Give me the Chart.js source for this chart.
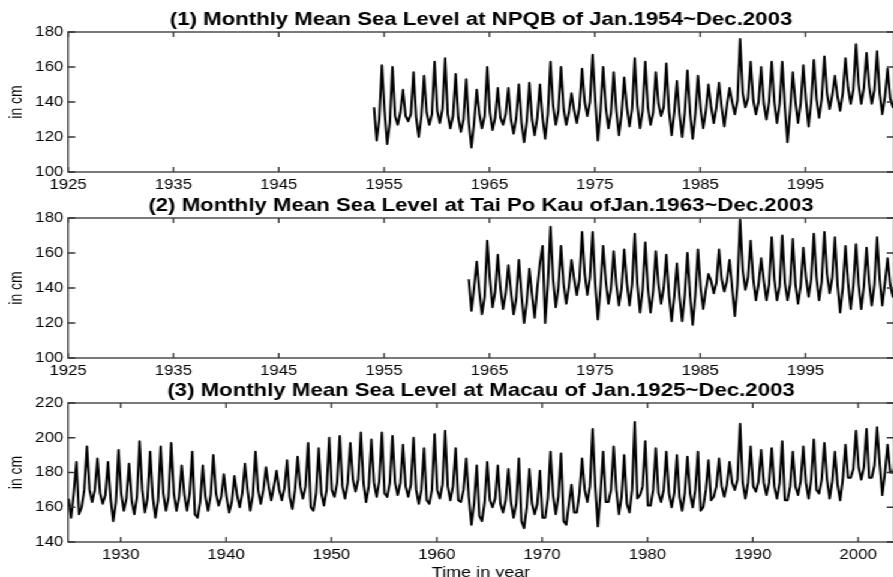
<!DOCTYPE html>
<html>
<head>
<meta charset="utf-8">
<title>Monthly Mean Sea Level</title>
<script src="https://cdn.jsdelivr.net/npm/chart.js@4.4.1/dist/chart.umd.min.js"></script>
<style>
  html, body { margin: 0; padding: 0; background: #fff; overflow: hidden; }
  #page { position: relative; width: 893px; height: 577px; overflow: hidden; }
  /* the reference is stretched sideways, so the whole drawing is too */
  #stretch { position: absolute; left: 0; top: 0; width: 750px; height: 600px; transform: scaleX(1.2); transform-origin: 0 0; }
  canvas { position: absolute; left: 0; }
</style>
</head>
<body>
<div id="page"><div id="stretch">
  <canvas id="chart1" width="750" height="195" style="top:0px;width:750px;height:195px"></canvas>
  <canvas id="chart2" width="750" height="195" style="top:186px;width:750px;height:195px"></canvas>
  <canvas id="chart3" width="750" height="213" style="top:371px;width:750px;height:213px"></canvas>
</div></div>
<script>
// readings per year, taken at these months
const sampleMonths = [1, 4, 7, 10];

const hkYearTicks = [1925, 1935, 1945, 1955, 1965, 1975, 1985, 1995];
const macauYearTicks = [1930, 1940, 1950, 1960, 1970, 1980, 1990, 2000];
const hkLevelTicks = [100, 120, 140, 160, 180];
const macauLevelTicks = [140, 160, 180, 200, 220];

// (1) North Point / Quarry Bay, cm
const npqbStart = 1954;
const npqbLevels = [
  [137, 118, 130, 161], [135, 116, 128, 160], [132, 127, 134, 147], [132, 129, 133, 157], [131, 120, 132, 155],
  [134, 127, 133, 163], [135, 128, 136, 165], [133, 125, 132, 156], [131, 123, 130, 153], [128, 114, 128, 147],
  [133, 125, 132, 160], [134, 124, 131, 148], [131, 127, 133, 148], [130, 122, 131, 150], [128, 117, 129, 151],
  [130, 121, 131, 150], [131, 119, 133, 163], [138, 127, 135, 160], [136, 127, 134, 145], [135, 128, 137, 159],
  [140, 132, 140, 167], [141, 118, 135, 160], [137, 125, 134, 157], [135, 121, 133, 154], [137, 126, 136, 165],
  [138, 125, 135, 163], [137, 127, 134, 157], [139, 132, 137, 162], [135, 121, 134, 152], [133, 120, 134, 158],
  [134, 119, 133, 155], [136, 125, 135, 150], [137, 128, 137, 151], [137, 126, 138, 148], [140, 133, 141, 176],
  [145, 137, 142, 163], [141, 133, 140, 160], [139, 130, 140, 163], [140, 128, 139, 163], [137, 117, 135, 157],
  [140, 128, 139, 161], [141, 126, 140, 164], [142, 131, 142, 166], [145, 136, 144, 155], [143, 135, 145, 165],
  [148, 139, 147, 173], [150, 139, 148, 168], [149, 139, 147, 169], [145, 133, 143, 159], [142, 137, 145, 160]
];

// (2) Tai Po Kau, cm
const tpkStart = 1963;
const tpkLevels = [
  [145, 127, 140, 155], [138, 125, 135, 167], [145, 129, 138, 159], [140, 128, 137, 153], [138, 125, 134, 156],
  [136, 120, 132, 151], [136, 123, 140, 154], [164, 120, 142, 175], [145, 129, 140, 164], [142, 131, 141, 156],
  [145, 136, 145, 172], [148, 136, 146, 172], [142, 122, 140, 164], [144, 131, 140, 161], [142, 130, 140, 162],
  [143, 130, 142, 171], [142, 126, 139, 166], [140, 126, 138, 161], [142, 131, 140, 159], [136, 121, 135, 154],
  [135, 121, 136, 160], [136, 119, 136, 162], [140, 128, 139, 148], [144, 137, 143, 162], [145, 138, 144, 156],
  [140, 124, 142, 179], [150, 139, 146, 167], [145, 133, 142, 157], [144, 133, 142, 169], [145, 133, 141, 170],
  [143, 133, 142, 168], [142, 131, 141, 163], [146, 135, 145, 171], [146, 133, 144, 172], [148, 137, 146, 169],
  [142, 126, 140, 164], [143, 128, 141, 165], [142, 128, 141, 163], [143, 130, 142, 169], [145, 130, 143, 157],
  [142, 135, 143, 158]
];

// (3) Macau, cm
const macauStart = 1925;
const macauLevels = [
  [165, 154, 168, 186], [156, 160, 170, 195], [170, 163, 170, 188], [168, 162, 167, 186], [165, 152, 163, 193],
  [168, 158, 165, 185], [164, 156, 166, 198], [170, 157, 165, 192], [166, 154, 164, 195], [168, 158, 166, 197],
  [168, 158, 166, 184], [167, 158, 168, 192], [156, 154, 163, 184], [166, 158, 167, 190], [168, 161, 166, 179],
  [166, 157, 163, 178], [167, 160, 168, 185], [170, 158, 167, 192], [170, 162, 170, 183], [172, 164, 172, 181],
  [170, 164, 171, 187], [166, 159, 170, 189], [172, 165, 172, 197], [160, 158, 168, 194], [168, 161, 170, 200],
  [170, 166, 174, 201], [172, 165, 174, 197], [176, 169, 176, 203], [174, 163, 172, 199], [174, 166, 175, 203],
  [168, 166, 174, 201], [174, 167, 174, 196], [172, 166, 173, 200], [170, 162, 170, 194], [164, 162, 170, 202],
  [170, 165, 173, 204], [172, 164, 172, 194], [164, 163, 170, 188], [166, 150, 162, 184], [155, 152, 163, 186],
  [164, 160, 165, 184], [162, 157, 164, 182], [163, 154, 162, 188], [152, 148, 160, 182], [162, 156, 162, 181],
  [154, 154, 165, 192], [167, 156, 166, 191], [152, 150, 162, 173], [157, 157, 168, 188], [170, 163, 172, 205],
  [172, 149, 168, 192], [163, 163, 170, 195], [170, 156, 166, 190], [162, 157, 170, 209], [165, 167, 172, 198],
  [161, 161, 170, 194], [168, 163, 170, 192], [168, 160, 168, 190], [166, 158, 168, 189], [168, 160, 170, 192],
  [158, 160, 170, 187], [164, 166, 172, 188], [172, 166, 173, 186], [174, 170, 176, 208], [174, 165, 174, 195],
  [172, 169, 175, 193], [174, 167, 174, 194], [172, 165, 174, 198], [164, 164, 172, 192], [172, 167, 175, 195],
  [174, 165, 176, 199], [170, 168, 176, 197], [176, 165, 175, 192], [173, 164, 176, 196], [177, 177, 182, 204],
  [183, 176, 183, 205], [177, 177, 184, 206], [185, 167, 180, 196], [180, 180, 186, 194]
];

Chart.defaults.font.family = '"Liberation Sans", Arial, sans-serif';
Chart.defaults.color = '#000';

function toPoints(startYear, levels) {
  const pts = [];
  levels.forEach((row, i) => {
    row.forEach((v, j) => {
      pts.push({ x: startYear + i + (sampleMonths[j] - 0.5) / 12, y: v });
    });
  });
  return pts;
}

// box round the plot with inward ticks on all four sides
const boxPlugin = {
  id: 'box',
  afterDraw(chart) {
    const { ctx, chartArea: a, scales: { x, y } } = chart;
    ctx.save();
    ctx.strokeStyle = '#333';
    ctx.lineWidth = 1.3;
    ctx.strokeRect(a.left, a.top, a.right - a.left, a.bottom - a.top);
    ctx.beginPath();
    x.ticks.forEach(t => {
      const px = x.getPixelForValue(t.value);
      ctx.moveTo(px, a.bottom); ctx.lineTo(px, a.bottom - 5);
      ctx.moveTo(px, a.top); ctx.lineTo(px, a.top + 5);
    });
    y.ticks.forEach(t => {
      const py = y.getPixelForValue(t.value);
      ctx.moveTo(a.left, py); ctx.lineTo(a.left + 6, py);
      ctx.moveTo(a.right, py); ctx.lineTo(a.right - 6, py);
    });
    ctx.stroke();
    ctx.restore();
  }
};

function makeChart(id, opts) {
  return new Chart(document.getElementById(id), {
    type: 'line',
    data: {
      datasets: [{
        data: toPoints(opts.start, opts.levels),
        borderColor: '#000',
        borderWidth: 2,
        borderJoinStyle: 'round',
        pointRadius: 0,
        tension: 0,
        fill: false
      }]
    },
    options: {
      responsive: false,
      animation: false,
      events: [],
      layout: { padding: { left: 0, right: 5, top: 0, bottom: 0 } },
      plugins: {
        legend: { display: false },
        tooltip: { enabled: false },
        title: {
          display: true,
          text: opts.title,
          fullSize: false,
          color: '#000',
          font: { size: 18.5, weight: 'bold' },
          padding: { top: 8.6, bottom: 1.2 }
        }
      },
      scales: {
        x: {
          type: 'linear',
          min: 1925,
          max: 2003.4,
          afterBuildTicks: s => { s.ticks = opts.xTicks.map(v => ({ value: v })); },
          afterFit: s => { s.height = opts.xAxisHeight; },
          grid: { display: false, drawTicks: false },
          border: { display: false },
          ticks: { padding: 5, autoSkip: false, maxRotation: 0, font: { size: 14 }, callback: v => String(v) },
          title: {
            display: !!opts.xTitle,
            text: opts.xTitle || '',
            font: { size: 15 },
            padding: { top: 0, bottom: 2.6 }
          }
        },
        y: {
          min: opts.yTicks[0],
          max: opts.yTicks[opts.yTicks.length - 1],
          afterBuildTicks: s => { s.ticks = opts.yTicks.map(v => ({ value: v })); },
          afterFit: s => { s.width = 56.7; },
          grid: { display: false, drawTicks: false },
          border: { display: false },
          ticks: { padding: 4, font: { size: 14 }, callback: v => String(v) },
          title: {
            display: true,
            text: 'in cm',
            font: { size: 14 },
            padding: { top: 5.4, bottom: 0 }
          }
        }
      }
    },
    plugins: [boxPlugin]
  });
}

makeChart('chart1', {
  title: '(1) Monthly Mean Sea Level at NPQB of Jan.1954~Dec.2003',
  start: npqbStart, levels: npqbLevels,
  xTicks: hkYearTicks, yTicks: hkLevelTicks, xAxisHeight: 23
});
makeChart('chart2', {
  title: '(2) Monthly Mean Sea Level at Tai Po Kau ofJan.1963~Dec.2003',
  start: tpkStart, levels: tpkLevels,
  xTicks: hkYearTicks, yTicks: hkLevelTicks, xAxisHeight: 23
});
makeChart('chart3', {
  title: '(3) Monthly Mean Sea Level at Macau of Jan.1925~Dec.2003',
  start: macauStart, levels: macauLevels,
  xTicks: macauYearTicks, yTicks: macauLevelTicks, xAxisHeight: 42,
  xTitle: 'Time in year'
});
</script>
</body>
</html>
